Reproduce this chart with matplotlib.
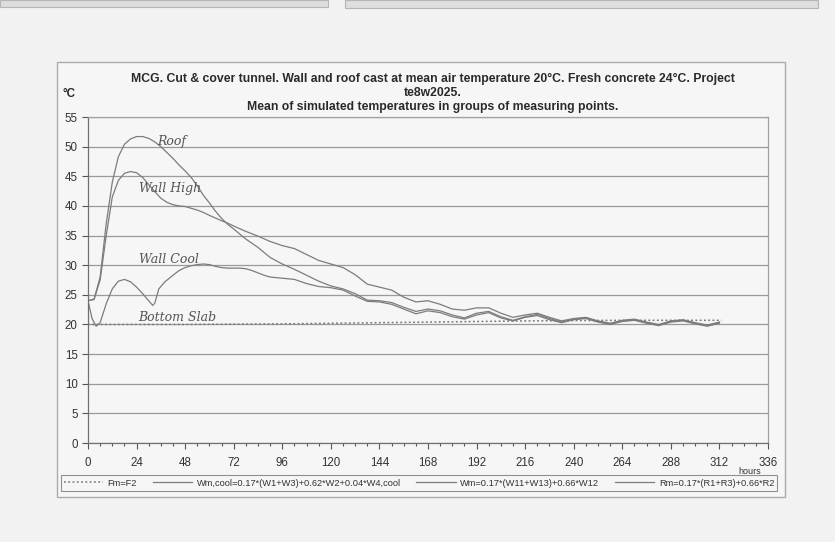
import numpy as np
import matplotlib.pyplot as plt
from matplotlib.patches import Rectangle

# hours and mean temperatures (deg C)

t_fm = [0, 48, 96, 120, 168, 216, 264, 313]
fm = [20.0, 20.0, 20.1, 20.2, 20.4, 20.6, 20.7, 20.7]

t_cool = [0, 2, 4, 6, 9, 12, 15, 18, 21, 24, 27, 30, 32, 33, 35, 38, 42, 45, 48, 51, 54, 57, 60,
          63, 66, 69, 72, 75, 78, 81, 84, 87, 90, 96, 102, 108, 114, 120, 126, 132, 138, 144, 150,
          156, 162, 168, 174, 180, 186, 192, 198, 204, 210, 216, 222, 228, 234, 240, 246, 252, 258,
          264, 270, 276, 282, 288, 294, 300, 306, 312]
cool = [24.0, 21.0, 19.7, 20.3, 23.5, 26.0, 27.3, 27.6, 27.2, 26.3, 25.2, 24.0, 23.2, 23.6, 26.0,
        27.2, 28.3, 29.1, 29.6, 29.9, 30.1, 30.2, 30.1, 29.8, 29.6, 29.5, 29.5, 29.5, 29.4, 29.1,
        28.7, 28.3, 28.0, 27.8, 27.6, 26.9, 26.4, 26.2, 25.8, 24.8, 23.9, 23.8, 23.4, 22.6, 21.8,
        22.3, 22.0, 21.3, 20.9, 21.6, 22.0, 21.1, 20.6, 21.2, 21.5, 20.8, 20.3, 20.8, 21.0, 20.4,
        20.0, 20.5, 20.7, 20.2, 19.8, 20.4, 20.6, 20.1, 19.7, 20.2]

t_wall = [0, 3, 6, 9, 12, 15, 18, 21, 24, 27, 30, 33, 36, 39, 42, 45, 48, 51, 54, 57, 60, 66, 69,
          72, 78, 84, 90, 96, 102, 108, 114, 120, 126, 132, 138, 144, 150, 156, 162, 168, 174, 180,
          186, 192, 198, 204, 210, 216, 222, 228, 234, 240, 246, 252, 258, 264, 270, 276, 282, 288,
          294, 300, 306, 312]
wall = [24.0, 24.2, 27.5, 35.0, 41.5, 44.3, 45.5, 45.8, 45.6, 44.8, 43.6, 42.4, 41.3, 40.6, 40.2,
        40.0, 39.9, 39.6, 39.3, 38.9, 38.4, 37.5, 37.1, 36.6, 35.7, 34.9, 34.0, 33.3, 32.8, 31.8,
        30.8, 30.2, 29.6, 28.4, 26.8, 26.3, 25.8, 24.6, 23.8, 24.0, 23.4, 22.6, 22.4, 22.8, 22.8,
        21.9, 21.2, 21.6, 21.9, 21.2, 20.6, 21.0, 21.2, 20.6, 20.2, 20.7, 20.9, 20.4, 20.0, 20.6,
        20.8, 20.3, 19.9, 20.4]

t_roof = [0, 3, 6, 9, 12, 15, 18, 21, 24, 27, 30, 33, 36, 39, 42, 45, 48, 51, 54, 57, 60, 63, 66,
          69, 72, 78, 84, 90, 96, 102, 108, 114, 120, 126, 132, 138, 144, 150, 156, 162, 168, 174,
          180, 186, 192, 198, 204, 210, 216, 222, 228, 234, 240, 246, 252, 258, 264, 270, 276, 282,
          288, 294, 300, 306, 312]
roof = [24.0, 24.3, 28.0, 37.0, 44.0, 48.3, 50.4, 51.3, 51.7, 51.7, 51.4, 50.8, 50.0, 49.0, 48.0,
        46.9, 45.9, 44.8, 43.4, 41.8, 40.5, 39.1, 37.9, 36.9, 36.1, 34.4, 33.0, 31.3, 30.2, 29.3,
        28.3, 27.3, 26.5, 26.0, 25.2, 24.1, 24.0, 23.7, 22.9, 22.2, 22.6, 22.3, 21.6, 21.1, 21.9,
        22.2, 21.3, 20.7, 21.3, 21.7, 21.0, 20.4, 20.9, 21.1, 20.5, 20.1, 20.6, 20.8, 20.3, 19.9,
        20.5, 20.7, 20.2, 19.8, 20.3]

labels = ["Fm=F2", "Wm,cool=0.17*(W1+W3)+0.62*W2+0.04*W4,cool",
          "Wm=0.17*(W11+W13)+0.66*W12", "Rm=0.17*(R1+R3)+0.66*R2"]

plt.rcParams['font.family'] = ['Liberation Sans', 'DejaVu Sans']

fig = plt.figure(figsize=(8.35, 5.42), dpi=100, facecolor='#f2f2f2')

# bits of the previous page at the top of the scan
fig.patches.append(Rectangle((0, 1 - 7 / 542), 328 / 835, 7 / 542, transform=fig.transFigure,
                             facecolor='#dedede', edgecolor='#b5b5b5', lw=0.8, zorder=-10))
fig.patches.append(Rectangle((345 / 835, 1 - 8 / 542), 473 / 835, 8 / 542, transform=fig.transFigure,
                             facecolor='#dedede', edgecolor='#b5b5b5', lw=0.8, zorder=-10))
# chart area
fig.patches.append(Rectangle((57 / 835, 1 - 497 / 542), 728 / 835, 435 / 542, transform=fig.transFigure,
                             facecolor='#f6f6f6', edgecolor='#ababab', lw=1.0, zorder=-10))

ax = fig.add_axes([88 / 835, 1 - 443 / 542, 680 / 835, 326 / 542])
ax.set_facecolor('#f6f6f6')

line_col = '#7c7c7c'
ax.plot(t_fm, fm, color='#777777', ls=(0, (1.2, 1.6)), lw=1.1, label=labels[0])
ax.plot(t_cool, cool, color=line_col, lw=0.9, label=labels[1])
ax.plot(t_wall, wall, color=line_col, lw=0.9, label=labels[2])
ax.plot(t_roof, roof, color=line_col, lw=0.9, label=labels[3])

ax.set_xlim(0, 336)
ax.set_ylim(0, 55)
ax.set_xticks(np.arange(0, 337, 24))
ax.set_xticks(np.arange(0, 337, 6), minor=True)
ax.set_yticks(np.arange(0, 56, 5))
ax.grid(axis='y', color='#9a9a9a', lw=0.9)
ax.set_axisbelow(True)
for s in ax.spines.values():
    s.set_color('#a0a0a0')
    s.set_linewidth(0.9)
ax.spines['left'].set_color('#707070')
ax.spines['bottom'].set_color('#707070')
ax.tick_params(axis='both', labelsize=8.3, colors='#555555', labelcolor='#333333', length=4, width=0.8)
ax.tick_params(axis='x', which='minor', length=2.5, width=0.8, colors='#555555')
ax.tick_params(axis='x', pad=6)

# handwritten notes
hand = dict(family='DejaVu Serif', style='italic', fontsize=9, color='#555555')
ax.text(34, 50.2, "Roof", **hand)
ax.text(25, 42.3, "Wall High", **hand)
ax.text(25, 30.4, "Wall Cool", **hand)
ax.text(25, 20.5, "Bottom Slab", **hand)

fig.text(433 / 835, 1 - 73 / 542,
         "MCG. Cut & cover tunnel. Wall and roof cast at mean air temperature 20°C. Fresh concrete 24°C. Project\n"
         "te8w2025.\nMean of simulated temperatures in groups of measuring points.",
         ha='center', va='top', fontsize=8.8, fontweight='bold', color='#2a2a2a', linespacing=1.2)
fig.text(62 / 835, 1 - 94 / 542, "°C", fontsize=8.4, fontweight='bold', color='#2a2a2a', va='center')
fig.text(738 / 835, 1 - 471 / 542, "hours", fontsize=6.5, color='#333333', va='center')

leg = fig.legend(loc='center', bbox_to_anchor=(419 / 835, 1 - 483 / 542), ncol=4, fontsize=6.7,
                 frameon=True, fancybox=False, edgecolor='#777777', facecolor='#f6f6f6',
                 handlelength=4.2, columnspacing=1.7, handletextpad=0.5, borderpad=0.35)
leg.get_frame().set_linewidth(0.8)
for txt in leg.get_texts():
    txt.set_color('#333333')

fig.savefig('out.png', dpi=100, facecolor=fig.get_facecolor())
